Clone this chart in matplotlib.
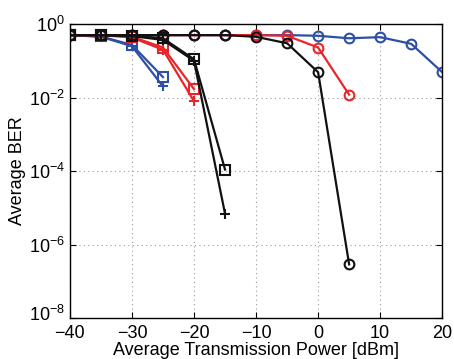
import numpy as np
import matplotlib
matplotlib.use('Agg')
from matplotlib import pyplot as plt
from matplotlib import transforms

plt.rcParams['font.family'] = ['Liberation Sans', 'DejaVu Sans']

# x values (dBm)
x_full = [-40, -35, -30, -25, -20, -15, -10, -5, 0, 5, 10, 15, 20]
x_c = [-40, -35, -30, -25, -20, -15, -10, -5, 0, 5]

blue_circle = [0.5, 0.5, 0.5, 0.5, 0.5, 0.5, 0.5, 0.5, 0.48, 0.41, 0.44, 0.29, 0.049]
red_circle = [0.5, 0.5, 0.5, 0.5, 0.5, 0.5, 0.5, 0.48, 0.23, 0.012]
black_circle = [0.5, 0.5, 0.5, 0.5, 0.5, 0.5, 0.45, 0.30, 0.049, 2.9e-7]

x_blue = [-40, -35, -30, -25]
blue_square = [0.5, 0.46, 0.27, 0.036]
blue_plus = [0.5, 0.45, 0.25, 0.02]

x_red = [-40, -35, -30, -25, -20]
red_square = [0.5, 0.5, 0.45, 0.23, 0.017]
red_plus = [0.5, 0.5, 0.43, 0.2, 0.008]

x_black = [-40, -35, -30, -25, -20, -15]
black_square = [0.5, 0.5, 0.48, 0.41, 0.11, 1.1e-4]
black_plus = [0.5, 0.5, 0.47, 0.37, 0.10, 6.9e-6]

blue = '#2d4fa6'
red = '#e8262a'
black = '#111111'

fig = plt.figure(figsize=(4.54, 3.59), dpi=100)
ax = fig.add_axes([0.154, 0.114, 0.82, 0.819])

kw = dict(lw=1.6, ms=7, mew=1.5, mfc='none')
ax.semilogy(x_full, blue_circle, 'o-', color=blue, **kw)
ax.semilogy(x_blue, blue_square, 's-', color=blue, **kw)
ax.semilogy(x_blue, blue_plus, '+-', color=blue, **kw)
ax.semilogy(x_c, red_circle, 'o-', color=red, **kw)
ax.semilogy(x_red, red_square, 's-', color=red, **kw)
ax.semilogy(x_red, red_plus, '+-', color=red, **kw)
ax.semilogy(x_c, black_circle, 'o-', color=black, **kw)
ax.semilogy(x_black, black_square, 's-', color=black, **kw)
ax.semilogy(x_black, black_plus, '+-', color=black, **kw)

ax.set_xlim(-40, 20)
ax.set_ylim(1e-8, 1)
ax.set_xticks([-40, -30, -20, -10, 0, 10, 20])
ax.set_yticks([1e-8, 1e-6, 1e-4, 1e-2, 1])
ax.yaxis.set_minor_locator(matplotlib.ticker.NullLocator())
ax.grid(True, ls=(0, (1, 3)), color='#999999', lw=0.8)
ax.tick_params(direction='in', top=True, right=True, labelsize=13, length=4)
ax.tick_params(axis='x', pad=5)
for s in ax.spines.values():
    s.set_linewidth(1.0)

# lift the bottom y label a bit so it clears the -40 label
fig.canvas.draw()
lab = ax.get_yticklabels()[0]
lab.set_transform(lab.get_transform() + transforms.ScaledTranslation(0, 4 / 72, fig.dpi_scale_trans))

ax.set_xlabel('Average Transmission Power [dBm]', fontsize=13, labelpad=0)
ax.set_ylabel('Average BER', fontsize=13, labelpad=2)

fig.savefig('out.png', dpi=100)
